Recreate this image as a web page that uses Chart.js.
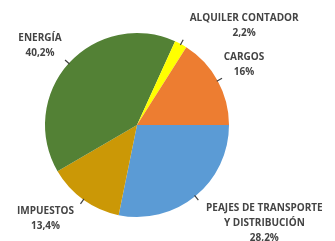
<!DOCTYPE html>
<html>
<head>
<meta charset="utf-8">
<script src="https://cdn.jsdelivr.net/npm/chart.js@4/dist/chart.umd.min.js"></script>
<style>
	html, body { margin: 0; padding: 0; background: #fff; }
	#wrap { width: 335px; height: 241px; position: relative; }
</style>
</head>
<body>
<div id="wrap"><canvas id="chart"></canvas></div>
<script>
	// Datos (en sentido horario desde las 3 en punto)
	const LABELS = [
		['PEAJES DE TRANSPORTE', 'Y DISTRIBUCIÓN'],
		['IMPUESTOS'],
		['ENERGÍA'],
		['ALQUILER CONTADOR'],
		['CARGOS']
	];
	const VALUES = [28.2, 13.4, 40.2, 2.2, 16];
	const VALUE_TEXT = ['28,2%', '13,4%', '40,2%', '2,2%', '16%'];
	const COLORS = ['#5B9BD5', '#CB9806', '#538135', '#FFFF00', '#ED7D31'];

	// Desplazamiento de cada etiqueta respecto al final de la línea guía
	const LABEL_OFFSETS = [[66, 8], [-35, 7], [-25, -22], [61, -22], [22, -21]];

	//Plugin para etiquetas con línea guía
	const outsideLabels = {
		id: 'outsideLabels',
		afterDatasetsDraw(chart) {
			let ctx = chart.ctx;
			let meta = chart.getDatasetMeta(0);

			ctx.save();
			meta.data.forEach((arc, index) => {
				let mid = (arc.startAngle + arc.endAngle) / 2;
				let r = arc.outerRadius;

				let x1 = arc.x + Math.cos(mid) * (r - 1);
				let y1 = arc.y + Math.sin(mid) * (r - 1);
				let x2 = arc.x + Math.cos(mid) * (r + 5);
				let y2 = arc.y + Math.sin(mid) * (r + 5);

				ctx.strokeStyle = '#404040';
				ctx.lineWidth = 1.2;
				ctx.beginPath();
				ctx.moveTo(x1, y1);
				ctx.lineTo(x2, y2);
				ctx.stroke();

				let lines = LABELS[index].concat([VALUE_TEXT[index]]);
				let tx = x2 + LABEL_OFFSETS[index][0];
				let ty = y2 + LABEL_OFFSETS[index][1];

				ctx.fillStyle = '#444444';
				ctx.textAlign = 'center';
				ctx.textBaseline = 'middle';
				ctx.font = 'bold 10px "Open Sans"';
				lines.forEach((line, lineIndex) => {
					ctx.fillText(line, tx, ty + lineIndex * 15);
				});
			});
			ctx.restore();
		}
	};

	new Chart(document.getElementById('chart'), {
		type: 'pie',
		data: {
			labels: LABELS.map((l) => l.join(' ')),
			datasets: [{
				data: VALUES,
				backgroundColor: COLORS,
				borderWidth: 0
			}]
		},
		options: {
			responsive: true,
			maintainAspectRatio: false,
			animation: false,
			rotation: 90,
			layout: { padding: { left: 45, right: 106, top: 33, bottom: 24 } },
			plugins: {
				legend: { display: false },
				tooltip: { enabled: false }
			}
		},
		plugins: [outsideLabels]
	});
</script>
</body>
</html>
